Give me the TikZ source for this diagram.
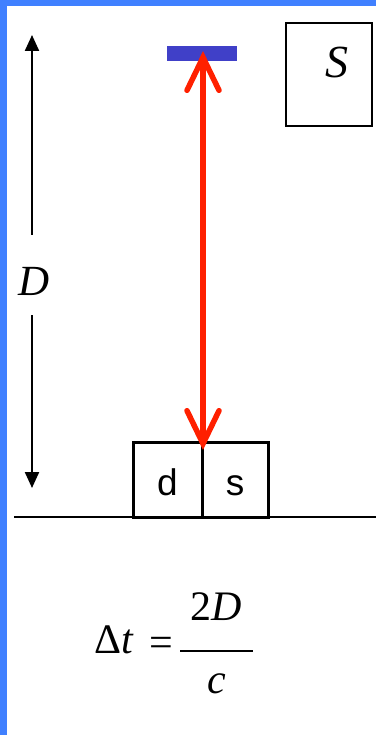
\documentclass[tikz,border=0pt]{standalone}
\usepackage{fontspec}
\setmainfont{Liberation Serif}
\newfontfamily\arialfont{Liberation Sans}
\usetikzlibrary{arrows.meta}
\definecolor{frameblue}{RGB}{64,128,255}
\definecolor{barblue}{RGB}{64,64,200}
\definecolor{rayred}{RGB}{255,32,0}
\tikzset{
  cellbox/.style={draw=black, line width=3pt, minimum height=75pt, inner sep=0pt, text height=32pt, text depth=0pt, font=\arialfont\fontsize{37}{42}\selectfont},
  dimarrow/.style={line width=2.2pt, -{Triangle[length=16pt,width=14pt]}},
  rayarrow/.style={draw=rayred, line width=5.5pt, {Straight Barb[length=33pt,width=32pt,line cap=round]}-{Straight Barb[length=33pt,width=32pt,line cap=round]}},
  mathtext/.style={inner sep=0pt, font=\fontsize{42}{48}\selectfont}
}
\begin{document}
\begin{tikzpicture}[x=1pt,y=-1pt]
\useasboundingbox (0,0) rectangle (376,735);
\fill[white] (0,0) rectangle (376,735);
% frame
\fill[frameblue] (0,0) rectangle (7,735);
\fill[frameblue] (0,0) rectangle (376,6);
% blue bar (mirror)
\node[fill=barblue, minimum width=70pt, minimum height=15pt, inner sep=0pt] (bar) at (202,53.5) {};
% S box
\node[draw=black, line width=2pt, minimum width=86pt, minimum height=103pt, inner sep=0pt] (Sbox) at (329,74.5) {};
\node[font=\itshape\fontsize{46}{50}\selectfont, inner sep=0pt, anchor=base] (Slbl) at (337,78) {S};
% d and s boxes
\node[cellbox, minimum width=69pt] (dbox) at (167.5,479.5) {d};
\node[cellbox, minimum width=66pt] (sbox) at (235,479.5) {s};
% ground line
\coordinate (g1) at (14,516.5);
\coordinate (g2) at (376,516.5);
\draw[line width=2pt] (g1) -- (g2);
% D dimension
\node[font=\itshape\fontsize{43}{48}\selectfont, minimum height=80pt, text height=40pt, text depth=0pt, inner sep=0pt] (Dlbl) at (34,275) {D};
\coordinate (Dtop) at (32,35);
\coordinate (Dbot) at (32,488);
\draw[dimarrow] (Dlbl.north -| Dtop) -- (Dtop);
\draw[dimarrow] (Dlbl.south -| Dbot) -- (Dbot);
% red ray
\coordinate (rtop) at (203,51);
\coordinate (rbot) at (203,450);
\draw[rayarrow] (rtop) -- (rbot);
% formula
\node[mathtext, anchor=base west] (lhs) at (94,653) {Δ\textit{t}};
\node[mathtext] (eq) at (161,647) {=};
\node[mathtext, anchor=base] (num) at (216.5,620) {2\textit{D}};
\node[mathtext, anchor=base] (den) at (216.5,693) {\textit{c}};
\coordinate (fb1) at (180,651);
\coordinate (fb2) at (253,651);
\draw[line width=2.2pt] (fb1) -- (fb2);
\end{tikzpicture}
\end{document}
